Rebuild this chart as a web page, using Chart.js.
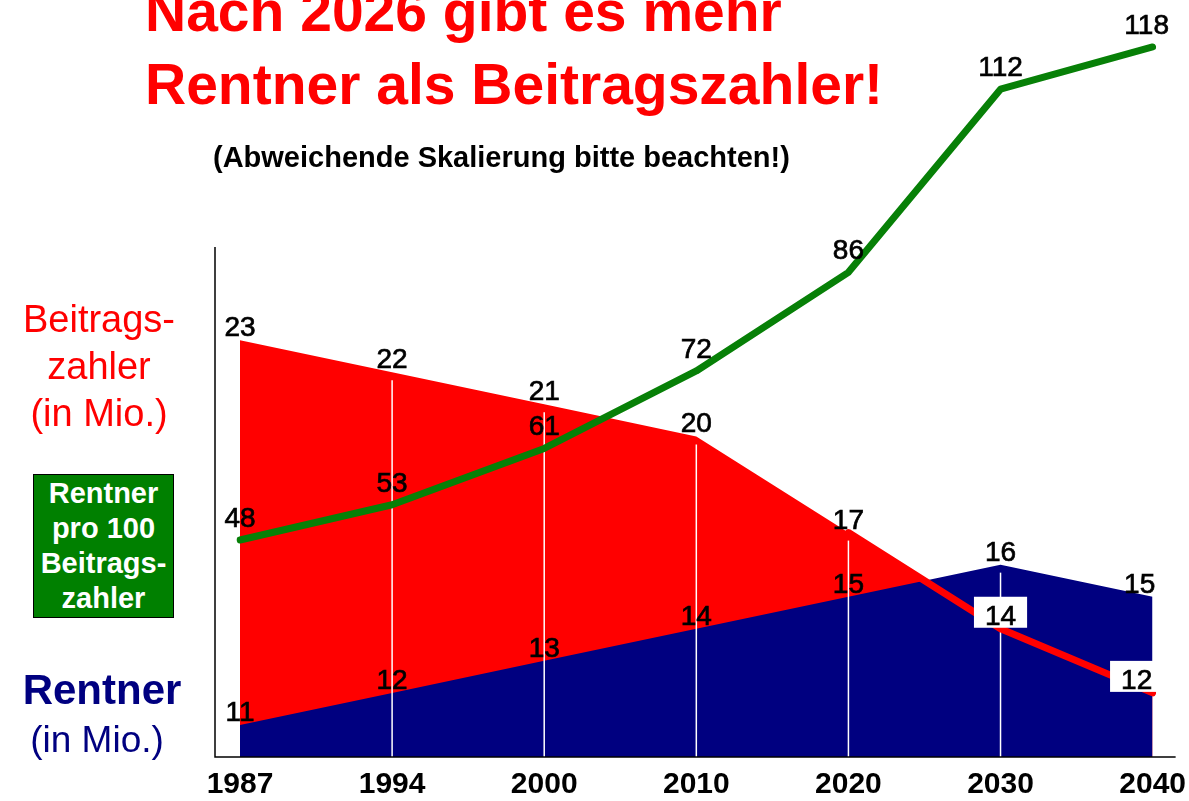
<!DOCTYPE html>
<html lang="de">
<head>
<meta charset="utf-8">
<title>Rentner und Beitragszahler</title>
<script src="https://cdn.jsdelivr.net/npm/chart.js@4.4.1/dist/chart.umd.min.js"></script>
<style>
  body { margin: 0; background: #fff; font-family: 'Liberation Sans', Arial, sans-serif; }
  #wrap { position: relative; width: 1189px; height: 801px; overflow: hidden; }
  #chartBox { position: absolute; left: 0; top: 0; width: 1196px; height: 801px; }
  .txt { position: absolute; white-space: nowrap; }
  #title { left: 145px; top: -25px; font-size: 57px; line-height: 73px; font-weight: bold; color: #f00; }
  #subtitle { left: 213px; top: 140px; font-size: 29px; line-height: 34px; font-weight: bold; color: #000; }
  #beitrag { left: 0; width: 198px; top: 296px; font-size: 38px; line-height: 47px; color: #f00; text-align: center; }
  #ratioBox { left: 33px; top: 474px; width: 141px; height: 144px; box-sizing: border-box; border: 1.5px solid #000;
              background: #008000; color: #fff; font-weight: bold; font-size: 29px; line-height: 35px; text-align: center; padding-top: 1px; }
  #rentner1 { left: 0; width: 204px; top: 666px; font-size: 42px; line-height: 48px; font-weight: bold; color: #000080; text-align: center; }
  #rentner2 { left: 0; width: 194px; top: 718px; font-size: 37px; line-height: 44px; color: #000080; text-align: center; }
</style>
</head>
<body>
<div id="wrap">
  <div id="chartBox"><canvas id="chart"></canvas></div>
  <div class="txt" id="title">Nach 2026 gibt es mehr<br>Rentner als Beitragszahler!</div>
  <div class="txt" id="subtitle">(Abweichende Skalierung bitte beachten!)</div>
  <div class="txt" id="beitrag">Beitrags-<br>zahler<br>(in Mio.)</div>
  <div class="txt" id="ratioBox">Rentner<br>pro 100<br>Beitrags-<br>zahler</div>
  <div class="txt" id="rentner1">Rentner</div>
  <div class="txt" id="rentner2">(in Mio.)</div>
</div>
<script>
// Data
const years = ['1987', '1994', '2000', '2010', '2020', '2030', '2040'];
const beitragszahler = [23, 22, 21, 20, 17, 14, 12];   // Mio.
const rentner = [11, 12, 13, 14, 15, 16, 15];          // Mio.
const rentnerPro100 = [48, 53, 61, 72, 86, 112, 118];   // Rentner pro 100 Beitragszahler

const FONT = "'Liberation Sans', Arial, sans-serif";

// red line is only drawn as a thick line from 2020 on
const beitragLine = beitragszahler.map((v, i) => (i >= 4 ? v : null));

// axis frame (left and bottom line)
const frame = {
    id: 'frame',
    afterDatasetsDraw(chart) {
        const { ctx, chartArea: a } = chart;
        ctx.save();
        ctx.strokeStyle = '#000';
        ctx.lineWidth = 1.5;
        ctx.beginPath();
        ctx.moveTo(a.left - 25, a.top + 237);
        ctx.lineTo(a.left - 25, a.bottom);
        ctx.lineTo(a.right + 23, a.bottom);
        ctx.stroke();
        ctx.restore();
    }
};

// thin white drop lines through the areas
const dropLines = {
    id: 'dropLines',
    afterDatasetDraw(chart, args) {
        if (args.index !== 1) return;
        const red = chart.getDatasetMeta(0).data;
        const blue = chart.getDatasetMeta(1).data;
        const ctx = chart.ctx;
        const bottom = chart.chartArea.bottom;
        ctx.save();
        ctx.strokeStyle = '#fff';
        ctx.lineWidth = 1.5;
        for (let i = 1; i < years.length - 1; i++) {
            const top = Math.min(red[i].y, blue[i].y) + 8;
            ctx.beginPath();
            ctx.moveTo(red[i].x, top);
            ctx.lineTo(red[i].x, bottom);
            ctx.stroke();
        }
        ctx.restore();
    }
};

// value labels next to the points
const valueLabels = {
    id: 'valueLabels',
    afterDatasetsDraw(chart) {
        const ctx = chart.ctx;
        ctx.save();
        ctx.font = '28px ' + FONT;
        ctx.textAlign = 'center';
        ctx.textBaseline = 'alphabetic';
        ctx.lineWidth = 0.7;
        ctx.strokeStyle = '#000';
        chart.data.datasets.forEach((ds, di) => {
            const opt = ds.valueLabels;
            if (!opt) return;
            const pts = chart.getDatasetMeta(di).data;
            pts.forEach((pt, i) => {
                const v = ds.data[i];
                if (v == null) return;
                const x = pt.x + (i === pts.length - 1 ? opt.lastShift : 0);
                const y = pt.y - opt.lift;
                if (opt.boxFrom != null && i >= opt.boxFrom) {
                    const w = ctx.measureText(String(v)).width + 22;
                    ctx.fillStyle = '#fff';
                    ctx.fillRect(x - w / 2, y - 28, w, 31);
                }
                ctx.fillStyle = '#000';
                ctx.fillText(String(v), x, y);
                ctx.strokeText(String(v), x, y);
            });
        });
        ctx.restore();
    }
};

new Chart(document.getElementById('chart'), {
    type: 'line',
    data: {
        labels: years,
        datasets: [
            {
                label: 'Beitragszahler',
                data: beitragszahler,
                yAxisID: 'y',
                order: 4,
                fill: 'start',
                backgroundColor: '#ff0000',
                borderWidth: 0,
                pointRadius: 0,
                valueLabels: { lift: 4, lastShift: -16, boxFrom: 5 }
            },
            {
                label: 'Rentner',
                data: rentner,
                yAxisID: 'y',
                order: 3,
                fill: 'start',
                backgroundColor: '#000080',
                borderWidth: 0,
                pointRadius: 0,
                valueLabels: { lift: 4, lastShift: -13 }
            },
            {
                label: 'Beitragszahler Linie',
                data: beitragLine,
                yAxisID: 'y',
                order: 2,
                fill: false,
                borderColor: '#ff0000',
                borderWidth: 7,
                borderCapStyle: 'round',
                borderJoinStyle: 'round',
                pointRadius: 0
            },
            {
                label: 'Rentner pro 100 Beitragszahler',
                data: rentnerPro100,
                yAxisID: 'y2',
                order: 1,
                fill: false,
                borderColor: '#078007',
                borderWidth: 7,
                borderCapStyle: 'round',
                borderJoinStyle: 'round',
                pointRadius: 0,
                valueLabels: { lift: 13, lastShift: -6 }
            }
        ]
    },
    options: {
        responsive: true,
        maintainAspectRatio: false,
        animation: false,
        layout: { padding: { top: 10, left: 240, right: 37, bottom: 0 } },
        elements: { line: { tension: 0 } },
        scales: {
            x: {
                offset: false,
                grid: { display: false, drawTicks: false },
                border: { display: false },
                ticks: {
                    color: '#000',
                    font: { family: FONT, size: 30, weight: 'bold' },
                    padding: 10,
                    maxRotation: 0,
                    autoSkip: false
                },
                afterFit(scale) { scale.height = 44; }
            },
            y: { display: false, min: 10, max: 33.3 },
            y2: { display: false, min: 17.19, max: 123.25 }
        },
        plugins: {
            legend: { display: false },
            tooltip: { enabled: false }
        }
    },
    plugins: [dropLines, frame, valueLabels]
});
</script>
</body>
</html>
